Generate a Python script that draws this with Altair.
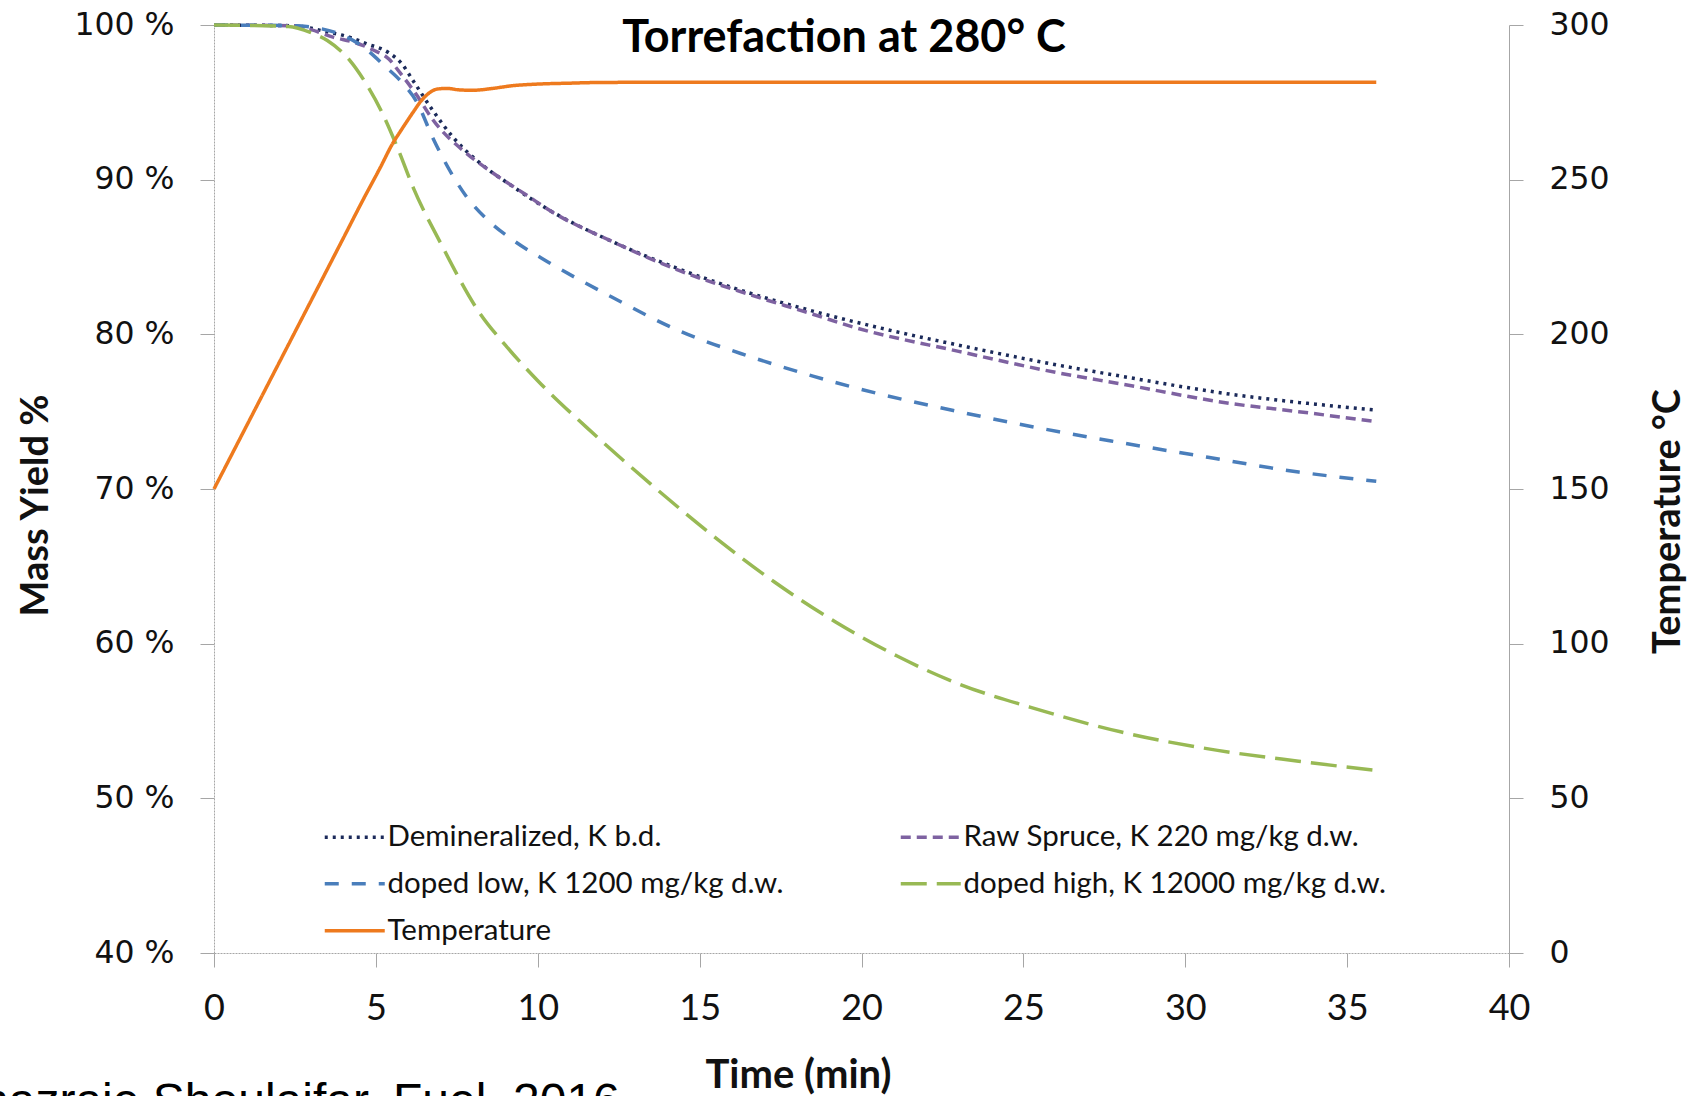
import altair as alt
import pandas as pd

# ---------------- data ----------------
# legend order is column-major in Vega: column 1 then column 2
series_names = [
    "Demineralized, K b.d.",
    "doped low, K 1200 mg/kg d.w.",
    "Temperature",
    "Raw Spruce, K 220 mg/kg d.w.",
    "doped high, K 12000 mg/kg d.w.",
]
series_colors = ["#1B2A5A", "#4A7EBB", "#EE7A1E", "#7E62A1", "#98B954"]
series_dashes = [[3, 5], [14, 13], [1, 0], [10, 6], [26, 10]]

time_dem = [0, 2.5, 3.4, 4.2, 4.7, 5.4, 5.8, 6.15, 6.75, 7.4, 8.2, 9.2, 10.3, 12.3, 14.4, 16.5, 18.5, 20.6, 23.0, 26.1, 28.0, 31.5, 33.5, 35.9]
yield_dem = [100, 99.95, 99.6, 99.2, 98.8, 98.2, 97.5, 96.4, 94.5, 92.7, 91.1, 89.6, 88.1, 86.0, 84.2, 82.7, 81.5, 80.4, 79.3, 78.0, 77.3, 76.1, 75.6, 75.1]

time_raw = [0, 2.5, 3.0, 3.7, 4.3, 4.9, 5.4, 5.75, 6.25, 6.75, 7.8, 8.5, 9.8, 10.3, 12.3, 14.4, 16.5, 18.5, 19.7, 23.0, 26.1, 28.0, 31.5, 33.5, 35.9]
yield_raw = [100, 99.95, 99.7, 99.2, 98.9, 98.4, 97.8, 96.9, 95.5, 93.9, 91.7, 90.6, 88.8, 88.1, 86.0, 84.1, 82.6, 81.3, 80.5, 78.9, 77.5, 76.8, 75.5, 75.0, 74.35]

time_low = [0, 2.5, 3.2, 3.9, 4.6, 5.3, 5.8, 6.27, 6.76, 7.2, 7.8, 8.5, 9.3, 10.3, 12.3, 14.4, 16.5, 18.5, 19.7, 23.0, 26.1, 28.0, 30.7, 33.5, 35.9]
yield_low = [100, 99.95, 99.8, 99.4, 98.6, 97.3, 96.3, 95.0, 92.7, 90.9, 88.9, 87.3, 86.0, 84.7, 82.4, 80.2, 78.6, 77.3, 76.6, 75.0, 73.7, 73.0, 72.05, 71.1, 70.5]

time_high = [0, 2.3, 3.0, 3.5, 4.2, 4.7, 5.2, 5.7, 6.15, 7.0, 8.2, 9.0, 10.0, 11.5, 13.5, 15.4, 17.3, 19.2, 21.1, 23.0, 25.2, 28.0, 31.0, 33.5, 35.9]
yield_high = [100, 99.9, 99.5, 99.0, 97.7, 96.2, 94.3, 91.9, 89.5, 85.9, 81.4, 79.3, 77.0, 74.0, 70.3, 67.0, 64.0, 61.4, 59.2, 57.4, 55.9, 54.3, 53.1, 52.4, 51.8]

time_temp = [0, 1, 2, 3, 4, 4.6, 5.13, 5.53, 5.75, 6.15, 6.4, 6.67, 6.9, 7.19, 7.6, 8.0, 8.6, 9.24, 10.0, 11.0, 11.8, 14, 20, 25, 30, 35.9]
temp_c = [150, 170.3, 190.6, 210.9, 231.2, 243.4, 253.8, 261.9, 265.5, 271.8, 275.5, 278.2, 279.3, 279.5, 279.0, 278.9, 279.5, 280.4, 280.9, 281.2, 281.4, 281.5, 281.5, 281.5, 281.5, 281.5]

x_ticks = [0, 5, 10, 15, 20, 25, 30, 35, 40]
y_left_ticks = [40, 50, 60, 70, 80, 90, 100]
y_right_ticks = [0, 50, 100, 150, 200, 250, 300]

chart_title = "Torrefaction at 280° C"
citation = "Khazraie Shoulaifar, Fuel, 2016"

# ---------------- tables ----------------
rows = []
for name, ts, vs in [
    ("Demineralized, K b.d.", time_dem, yield_dem),
    ("Raw Spruce, K 220 mg/kg d.w.", time_raw, yield_raw),
    ("doped low, K 1200 mg/kg d.w.", time_low, yield_low),
    ("doped high, K 12000 mg/kg d.w.", time_high, yield_high),
]:
    for t, v in zip(ts, vs):
        rows.append({"time": t, "value": v, "series": name})
yield_df = pd.DataFrame(rows)
temp_df = pd.DataFrame({"time": time_temp, "temp": temp_c, "series": "Temperature"})

# ---------------- styling ----------------
W, H = 1295, 928
AXIS_GRAY = "#A6A6A6"
TXT = "#111111"

color_scale = alt.Scale(domain=series_names, range=series_colors)
dash_scale = alt.Scale(domain=series_names, range=series_dashes)

legend = alt.Legend(
    title=None,
    orient="none",
    legendX=104,
    legendY=797,
    columns=2,
    columnPadding=109,
    rowPadding=16,
    padding=0,
    symbolType="M-5,0H5",
    symbolSize=144,
    symbolStrokeWidth=3.5,
    symbolOffset=22,
    labelOffset=18,
    labelFont="Lato",
    labelFontSize=29.5,
    labelColor=TXT,
    labelLimit=0,
)

x_enc = alt.X(
    "time:Q",
    scale=alt.Scale(domain=[0, 40], nice=False),
    axis=alt.Axis(
        values=x_ticks,
        title="Time (min)",
        titleFont="Lato",
        titleFontSize=40,
        titleFontWeight="bold",
        titleColor=TXT,
        titleX=584,
        titleY=122,
        titleAlign="center",
        titleBaseline="middle",
        labelFont="Lato",
        labelFontSize=36,
        labelColor=TXT,
        labelPadding=24,
        labelFlush=False,
        labelOverlap=False,
        tickSize=14,
        tickColor=AXIS_GRAY,
        domainColor=AXIS_GRAY,
        domainDash=[2, 1],
        grid=False,
    ),
)

mass = alt.Chart(yield_df).mark_line(strokeWidth=3.5, interpolate="monotone").encode(
    x=x_enc,
    y=alt.Y(
        "value:Q",
        scale=alt.Scale(domain=[40, 100], nice=False),
        axis=alt.Axis(
            orient="left",
            values=y_left_ticks,
            labelExpr="datum.value + ' %'",
            title="Mass Yield %",
            titleFont="Lato",
            titleFontSize=38,
            titleFontWeight="bold",
            titleColor=TXT,
            titleAngle=-90,
            titleX=-178,
            titleY=480,
            titleAlign="center",
            titleBaseline="middle",
            labelFont="DejaVu Sans",
            labelFontSize=31.5,
            labelColor=TXT,
            labelPadding=26,
            labelFlush=False,
            tickSize=14,
            tickColor=AXIS_GRAY,
            domainColor=AXIS_GRAY,
            domainDash=[2, 1],
            grid=False,
        ),
    ),
    color=alt.Color("series:N", scale=color_scale, legend=legend),
    strokeDash=alt.StrokeDash("series:N", scale=dash_scale, legend=legend),
    order=alt.Order("time:Q"),
)

temp = alt.Chart(temp_df).mark_line(strokeWidth=3.5, interpolate="monotone").encode(
    x=alt.X("time:Q"),
    y=alt.Y(
        "temp:Q",
        scale=alt.Scale(domain=[0, 300], nice=False),
        axis=alt.Axis(
            orient="right",
            values=y_right_ticks,
            title="Temperature °C",
            titleFont="Lato",
            titleFontSize=38,
            titleFontWeight="bold",
            titleColor=TXT,
            titleAngle=-90,
            titleX=159,
            titleY=496,
            titleAlign="center",
            titleBaseline="middle",
            labelFont="DejaVu Sans",
            labelFontSize=31.5,
            labelColor=TXT,
            labelPadding=26,
            labelFlush=False,
            tickSize=14,
            tickColor=AXIS_GRAY,
            domainColor=AXIS_GRAY,
            grid=False,
        ),
    ),
    color=alt.Color("series:N", scale=color_scale, legend=legend),
    strokeDash=alt.StrokeDash("series:N", scale=dash_scale, legend=legend),
    order=alt.Order("time:Q"),
)

title_layer = alt.Chart(pd.DataFrame({"label": [chart_title]})).mark_text(
    font="Lato", fontSize=45, fontWeight="bold", color="#000000",
    align="center", baseline="middle",
).encode(text="label:N", x=alt.value(630), y=alt.value(13))

cite_layer = alt.Chart(pd.DataFrame({"label": [citation]})).mark_text(
    font="Liberation Sans", fontSize=48, color="#000000",
    align="left", baseline="alphabetic",
).encode(text="label:N", x=alt.value(-264), y=alt.value(1092))

chart = (
    alt.layer(mass, temp, title_layer, cite_layer)
    .resolve_scale(y="independent")
    .properties(
        width=W,
        height=H,
        autosize=alt.AutoSizeParams(type="none"),
        padding={"left": 214, "top": 25, "right": 193, "bottom": 143},
        background="white",
    )
    .configure_view(stroke=None)
)

chart.save("out.html", embed_options={"renderer": "svg", "actions": False})
